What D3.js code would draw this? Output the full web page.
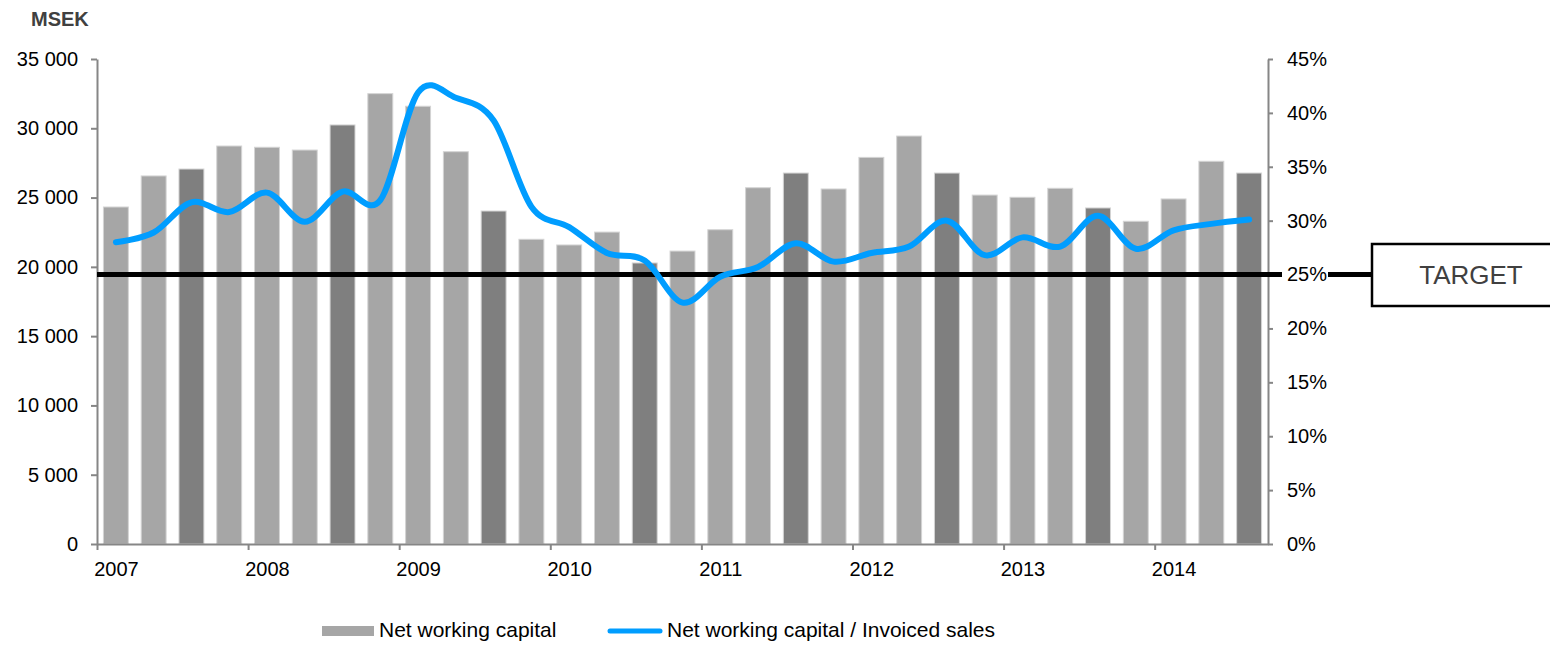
<!DOCTYPE html>
<html>
<head>
<meta charset="utf-8">
<script src="https://cdn.jsdelivr.net/npm/d3@7"></script>
<style>
  body { margin: 0; background: #fff; }
  svg text { font-family: "Liberation Sans", Arial, sans-serif; }
  .axis path, .axis line { stroke: #868686; stroke-width: 2; }
  .axis text { font-size: 20px; fill: #000; }
</style>
</head>
<body>
<div id="chart"></div>
<script>
// quarters 2007 Q1 .. 2014 Q3
var years = ["2007", "2008", "2009", "2010", "2011", "2012", "2013", "2014"];
var quarters = ["Q1", "Q2", "Q3", "Q4"];
var categories = [];
years.forEach(function(y) {
    quarters.forEach(function(q) { categories.push(y + " " + q); });
});
categories = categories.slice(0, 31);

// MSEK
var netWorkingCapital = [24320, 26560, 27060, 28720, 28630, 28430, 30240, 32500,
    31590, 28310, 24030, 21990, 21580, 22510, 20280, 21140,
    22680, 25710, 26770, 25620, 27900, 29440, 26770, 25180,
    25020, 25670, 24250, 23290, 24900, 27620, 26770];

// % of invoiced sales
var nwcToSales = [28.0, 28.9, 31.7, 30.8, 32.6, 29.9, 32.7, 31.9,
    41.9, 41.4, 39.3, 31.3, 29.4, 27.0, 26.3, 22.4,
    24.8, 25.7, 27.9, 26.2, 27.0, 27.6, 30.0, 26.8,
    28.45, 27.6, 30.45, 27.4, 29.1, 29.7, 30.1];

var targetPct = 25;
var leftTicks = [0, 5000, 10000, 15000, 20000, 25000, 30000, 35000];
var rightTicks = [0, 5, 10, 15, 20, 25, 30, 35, 40, 45];

var W = 1550, H = 646;
var plotLeft = 97, plotRight = 1268, plotTop = 59, plotBottom = 544;

var svg = d3.select("#chart")
    .append("svg")
    .attr("width", W)
    .attr("height", H);

var x = d3.scaleBand()
    .domain(categories)
    .range([plotLeft, plotRight])
    .paddingInner(0.34)
    .paddingOuter(0.17);

var xi = d3.scaleLinear()
    .domain([0, categories.length])
    .range([plotLeft, plotRight]);

var yL = d3.scaleLinear().domain([0, 35000]).range([plotBottom, plotTop]);
var yR = d3.scaleLinear().domain([0, 45]).range([plotBottom, plotTop]);

var sv = d3.formatLocale({decimal: ",", thousands: " ", grouping: [3], currency: ["", ""]});

// bars
svg.selectAll("rect.bar")
    .data(netWorkingCapital)
    .enter()
    .append("rect")
    .attr("class", "bar")
    .attr("x", function(d, i) { return x(categories[i]); })
    .attr("y", function(d) { return yL(d); })
    .attr("width", x.bandwidth())
    .attr("height", function(d) { return plotBottom - yL(d); })
    .attr("fill", function(d, i) { return categories[i].slice(-2) == "Q3" ? "#7f7f7f" : "#a6a6a6"; })
    .attr("stroke", "#d4d4d4")
    .attr("stroke-width", 1);

// axes
svg.append("g")
    .attr("class", "axis")
    .attr("transform", "translate(" + plotLeft + ",0)")
    .call(d3.axisLeft(yL).tickValues(leftTicks).tickSize(6).tickSizeOuter(0).tickPadding(13)
        .tickFormat(function(d) { return sv.format(",")(d); }));

svg.append("g")
    .attr("class", "axis")
    .attr("transform", "translate(" + plotRight + ",0)")
    .call(d3.axisRight(yR).tickValues(rightTicks).tickSize(5).tickSizeOuter(0).tickPadding(14)
        .tickFormat(function(d) { return d + "%"; }));

var xAxis = svg.append("g")
    .attr("class", "axis")
    .attr("transform", "translate(0," + plotBottom + ")")
    .call(d3.axisBottom(xi).tickValues(d3.range(0, categories.length, 4)).tickSize(6).tickSizeOuter(0).tickPadding(12)
        .tickFormat(function(d) { return years[d / 4]; }));
xAxis.selectAll("text").attr("x", x.step() / 2);

// target line
var ty = yR(targetPct);
svg.append("line")
    .attr("x1", plotLeft).attr("x2", plotRight + 14)
    .attr("y1", ty).attr("y2", ty)
    .attr("stroke", "#000").attr("stroke-width", 5);
svg.append("line")
    .attr("x1", plotRight + 60).attr("x2", 1372)
    .attr("y1", ty).attr("y2", ty)
    .attr("stroke", "#000").attr("stroke-width", 5);

svg.append("rect")
    .attr("x", 1372).attr("y", 244)
    .attr("width", 200).attr("height", 62)
    .attr("fill", "#fff")
    .attr("stroke", "#000").attr("stroke-width", 2.5);
svg.append("text")
    .attr("x", 1471).attr("y", ty)
    .attr("dy", "0.35em")
    .attr("text-anchor", "middle")
    .style("font-size", "26px")
    .style("fill", "#404040")
    .text("TARGET");

// ratio line
var line = d3.line()
    .x(function(d, i) { return x(categories[i]) + x.bandwidth() / 2; })
    .y(function(d) { return yR(d); })
    .curve(d3.curveCardinal.tension(0));

svg.append("path")
    .datum(nwcToSales)
    .attr("d", line)
    .attr("fill", "none")
    .attr("stroke", "#009dff")
    .attr("stroke-width", 6)
    .attr("stroke-linecap", "round");

// unit label
svg.append("text")
    .attr("x", 31).attr("y", 26)
    .style("font-size", "20px")
    .style("font-weight", "bold")
    .style("fill", "#404040")
    .text("MSEK");

// legend
var legend = svg.append("g");
legend.append("rect")
    .attr("x", 322).attr("y", 626)
    .attr("width", 52).attr("height", 10)
    .attr("fill", "#a6a6a6");
legend.append("text")
    .attr("x", 379).attr("y", 637)
    .style("font-size", "21px")
    .text("Net working capital");
legend.append("line")
    .attr("x1", 610).attr("x2", 660)
    .attr("y1", 631).attr("y2", 631)
    .attr("stroke", "#009dff").attr("stroke-width", 5)
    .attr("stroke-linecap", "round");
legend.append("text")
    .attr("x", 667).attr("y", 637)
    .style("font-size", "21px")
    .text("Net working capital / Invoiced sales");
</script>
</body>
</html>
